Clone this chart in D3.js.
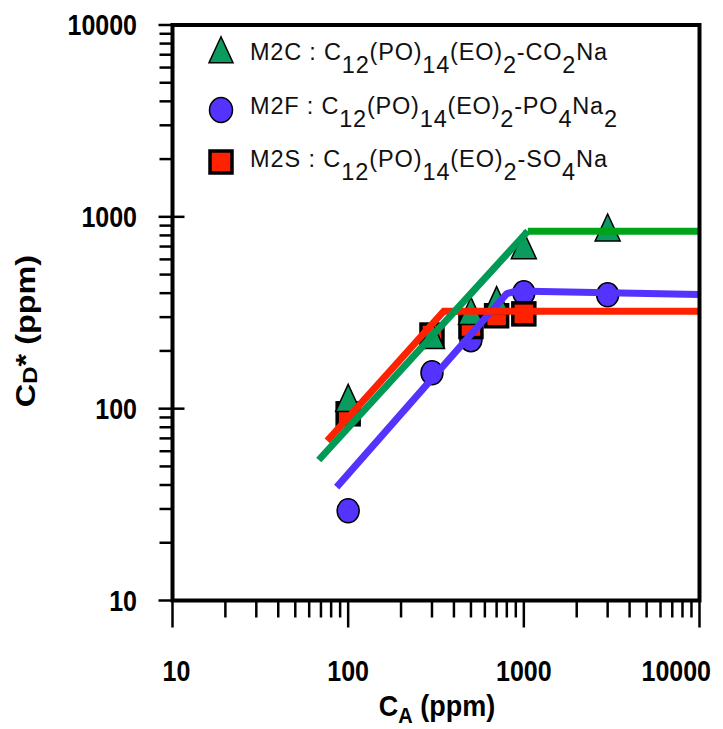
<!DOCTYPE html>
<html>
<head>
<meta charset="utf-8">
<script src="https://cdn.jsdelivr.net/npm/d3@7"></script>
<style>
  html, body { margin: 0; padding: 0; background: #fff; }
  svg { display: block; font-family: "Liberation Sans", Arial, sans-serif; }
</style>
</head>
<body>
<svg id="chart" width="723" height="729"></svg>
<script>
// ---------- data ----------
const xTickValues = [10, 100, 1000, 10000];
const yTickValues = [10, 100, 1000, 10000];

const m2cX = [100, 300, 500, 700, 1000, 3000];
const m2cY = [112, 238, 318, 362, 700, 866];

const m2fX = [100, 300, 500, 1000, 3000];
const m2fY = [29.4, 154, 229, 402, 392];

const m2sX = [100, 300, 500, 700, 1000];
const m2sY = [94, 242, 268, 305, 312];

// fitted lines (x, y)
const lineM2cX = [68, 1054, 10000];
const lineM2cY = [54, 842, 842];
const lineM2fX = [86, 800, 900, 10000];
const lineM2fY = [39, 398, 410, 394];
const lineM2sX = [76, 350, 10000];
const lineM2sY = [68, 322, 322];

const legendLabels = [
  [["M2C : C", 0], ["12", 1], ["(PO)", 0], ["14", 1], ["(EO)", 0], ["2", 1], ["-CO", 0], ["2", 1], ["Na", 0]],
  [["M2F : C", 0], ["12", 1], ["(PO)", 0], ["14", 1], ["(EO)", 0], ["2", 1], ["-PO", 0], ["4", 1], ["Na", 0], ["2", 1]],
  [["M2S : C", 0], ["12", 1], ["(PO)", 0], ["14", 1], ["(EO)", 0], ["2", 1], ["-SO", 0], ["4", 1], ["Na", 0]]
];

// ---------- setup ----------
const svg = d3.select("#chart");
const x = d3.scaleLog().domain([10, 10000]).range([172.5, 699.5]);
const y = d3.scaleLog().domain([10, 10000]).range([600.5, 25]);

const colGreenFill = "#0b9b5e";
const colGreenLine = "#009a55";
const colGreenFlat = "#00a318";
const colBlue = "#5533ff";
const colRed = "#ff2200";

// minor ticks
const minor = [];
[10, 100, 1000].forEach(d => { for (let k = 2; k <= 9; k++) minor.push(d * k); });

// ---------- axes ticks ----------
const tickG = svg.append("g").attr("stroke", "#000").attr("stroke-width", 2.5);
tickG.selectAll(".xmaj").data(xTickValues).enter().append("line")
  .attr("x1", d => x(d)).attr("x2", d => x(d))
  .attr("y1", y(10)).attr("y2", y(10) + 27);
tickG.selectAll(".xmin").data(minor).enter().append("line")
  .attr("x1", d => x(d)).attr("x2", d => x(d))
  .attr("y1", y(10)).attr("y2", y(10) + 17);
tickG.selectAll(".ymaj").data(yTickValues).enter().append("line")
  .attr("y1", d => y(d)).attr("y2", d => y(d))
  .attr("x1", x(10) - 14).attr("x2", x(10) + 12);
tickG.selectAll(".ymin").data(minor).enter().append("line")
  .attr("y1", d => y(d)).attr("y2", d => y(d))
  .attr("x1", x(10) - 13).attr("x2", x(10));

// tick labels (slightly tall glyphs, as in the reference)
const stretch = 1.15;
svg.selectAll(".xlab").data(xTickValues).enter().append("g")
  .attr("transform", d => `translate(${d === 10000 ? 711 : x(d) + (d === 10 ? 4 : 0)},681) scale(1,${stretch})`)
  .append("text")
  .attr("text-anchor", d => d === 10000 ? "end" : "middle")
  .attr("font-size", 25).attr("font-weight", "bold")
  .text(d => d);
svg.selectAll(".ylab").data(yTickValues).enter().append("g")
  .attr("transform", d => `translate(137,${y(d) + 10}) scale(1,${stretch})`)
  .append("text")
  .attr("text-anchor", "end")
  .attr("font-size", 25).attr("font-weight", "bold")
  .text(d => d);

// ---------- markers ----------
function triPath(cx, cy, w, h) {
  return `M${cx},${cy - h * 0.55}L${cx + w / 2},${cy + h * 0.45}L${cx - w / 2},${cy + h * 0.45}Z`;
}
const marks = svg.append("g");
marks.selectAll(".c").data(m2fX).enter().append("ellipse")
  .attr("cx", d => x(d)).attr("cy", (d, i) => y(m2fY[i]))
  .attr("rx", 11).attr("ry", 12)
  .attr("fill", colBlue).attr("stroke", "#000").attr("stroke-width", 1.5);
marks.selectAll(".s").data(m2sX).enter().append("rect")
  .attr("x", d => x(d) - 11).attr("y", (d, i) => y(m2sY[i]) - 11)
  .attr("width", 22).attr("height", 22)
  .attr("fill", colRed).attr("stroke", "#000").attr("stroke-width", 3.5);
marks.selectAll(".t").data(m2cX).enter().append("path")
  .attr("d", (d, i) => triPath(x(d), y(m2cY[i]), 25, 27))
  .attr("fill", colGreenFill).attr("stroke", "#000").attr("stroke-width", 1.5);

// ---------- lines ----------
const line = d3.line().x(d => x(d[0])).y(d => y(d[1]));
const lg = svg.append("g").attr("fill", "none").attr("stroke-width", 7);
lg.append("path").attr("d", line(lineM2fX.map((v, i) => [v, lineM2fY[i]])))
  .attr("stroke", colBlue).attr("stroke-linejoin", "round");
lg.append("path").attr("d", line(lineM2sX.map((v, i) => [v, lineM2sY[i]])))
  .attr("stroke", colRed).attr("stroke-linejoin", "miter");
lg.append("path").attr("d", line([[lineM2cX[1], lineM2cY[1]], [lineM2cX[2], lineM2cY[2]]]))
  .attr("stroke", colGreenFlat);
lg.append("path").attr("d", line([[lineM2cX[0], lineM2cY[0]], [lineM2cX[1], lineM2cY[1]]]))
  .attr("stroke", colGreenLine);

// ---------- frame ----------
svg.append("rect")
  .attr("x", x(10)).attr("y", y(10000))
  .attr("width", x(10000) - x(10)).attr("height", y(10) - y(10000))
  .attr("fill", "none").attr("stroke", "#000").attr("stroke-width", 4);

// ---------- legend ----------
const legY = [60, 114, 167];
const legW = [357, 367, 357];
const leg = svg.append("g");
leg.append("path").attr("d", triPath(221, 51, 24, 26))
  .attr("fill", colGreenFill).attr("stroke", "#000").attr("stroke-width", 1.5);
leg.append("ellipse").attr("cx", 221).attr("cy", 110).attr("rx", 11.5).attr("ry", 12.5)
  .attr("fill", colBlue).attr("stroke", "#000").attr("stroke-width", 1.5);
leg.append("rect").attr("x", 210).attr("y", 151).attr("width", 22).attr("height", 22)
  .attr("fill", colRed).attr("stroke", "#000").attr("stroke-width", 3.5);

legendLabels.forEach((segs, li) => {
  const t = leg.append("text").attr("x", 250).attr("y", legY[li])
    .attr("font-size", 23.5).attr("fill", "#111")
    .attr("textLength", legW[li]).attr("lengthAdjust", "spacing");
  let cur = 0;
  segs.forEach(([s, sub]) => {
    const target = sub ? 13 : 0;
    t.append("tspan").attr("dy", target - cur).text(s);
    cur = target;
  });
});

// ---------- axis titles ----------
const xt = svg.append("g").attr("transform", "translate(437,716) scale(1,1.1)")
  .append("text").attr("text-anchor", "middle").attr("font-weight", "bold").attr("font-size", 27);
xt.append("tspan").text("C");
xt.append("tspan").attr("dy", 6).attr("font-size", 20).text("A");
xt.append("tspan").attr("dy", -6).text(" (ppm)");

const yt = svg.append("g").attr("transform", "translate(35,331) scale(1,1.2) rotate(-90)")
  .append("text").attr("x", 0).attr("y", 0)
  .attr("text-anchor", "middle").attr("font-weight", "bold").attr("font-size", 27);
yt.append("tspan").text("C");
yt.append("tspan").attr("dy", 2).attr("font-size", 20).text("D");
yt.append("tspan").attr("dy", -2).text("* (ppm)");
</script>
</body>
</html>
